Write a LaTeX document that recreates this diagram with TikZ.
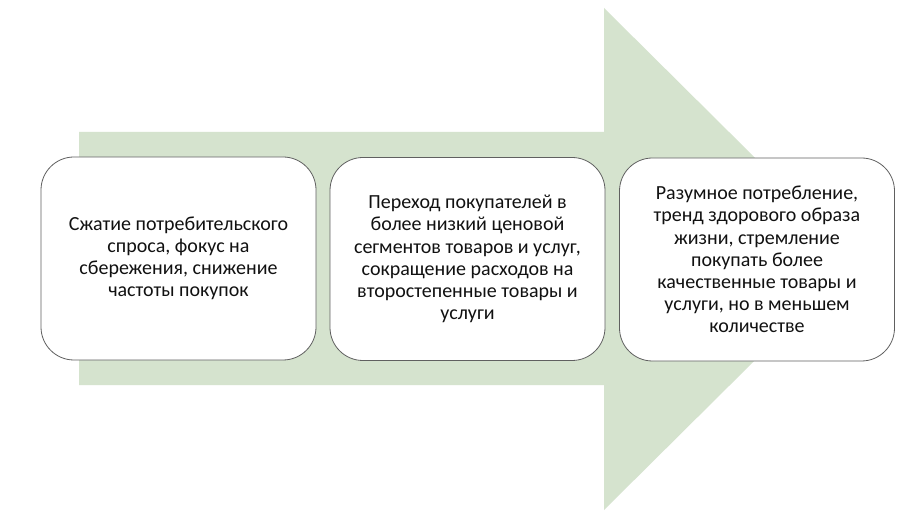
\documentclass[tikz,border=0pt]{standalone}
\usepackage{fontspec}
\setmainfont{Carlito}
\definecolor{arrowgreen}{HTML}{D5E3CE}
\definecolor{boxline}{HTML}{606060}
\definecolor{textcol}{HTML}{111111}
\begin{document}
\begin{tikzpicture}[x=1pt,y=-1pt,
  stagebox/.style={draw=boxline, line width=0.8pt, fill=white, rounded corners=33pt,
    minimum width=275pt, minimum height=203pt, align=center, text=textcol,
    font=\fontsize{20}{22.2}\selectfont, inner sep=0pt}]
\useasboundingbox (0,0) rectangle (923,518);
\fill[white] (0,0) rectangle (923,518);
\fill[arrowgreen] (79,132) -- (604,132) -- (604,8) -- (857,259) -- (604,510) -- (604,385) -- (79,385) -- cycle;
\node[stagebox] (s1) at (178.5,258.5) {Сжатие потребительского\\спроса, фокус на\\сбережения, снижение\\частоты покупок};
\node[stagebox] (s2) at (467.5,259) {Переход покупателей в\\более низкий ценовой\\сегментов товаров и услуг,\\сокращение расходов на\\второстепенные товары и\\услуги};
\node[stagebox] (s3) at (757,259.5) {Разумное потребление,\\тренд здорового образа\\жизни, стремление\\покупать более\\качественные товары и\\услуги, но в меньшем\\количестве};
\end{tikzpicture}
\end{document}
